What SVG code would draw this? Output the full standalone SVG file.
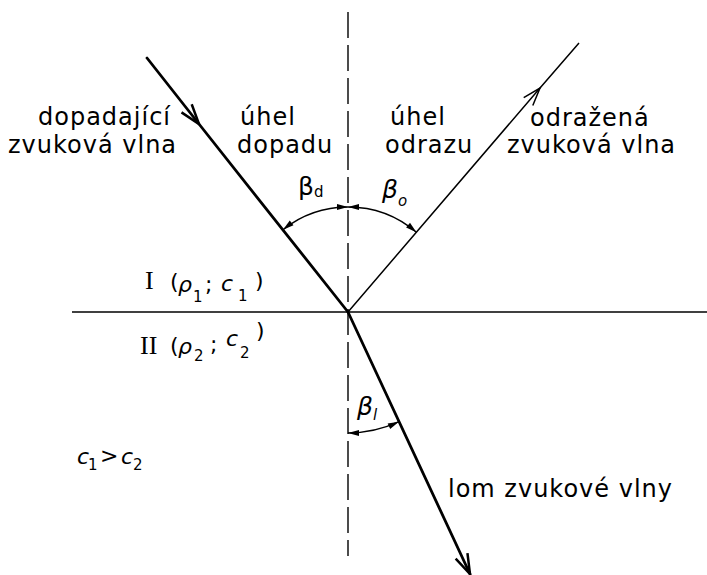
<svg xmlns="http://www.w3.org/2000/svg" width="707" height="575" viewBox="0 0 707 575">
<style>
  .t { font-family: "DejaVu Sans", "Liberation Sans", sans-serif; font-size: 24px; letter-spacing: 1px; fill: #000; }
  .m { font-family: "DejaVu Sans", "Liberation Sans", sans-serif; font-size: 22px; fill: #000; }
  .b { font-family: "DejaVu Sans", "Liberation Sans", sans-serif; font-size: 25px; fill: #000; }
  .s { font-family: "DejaVu Sans", "Liberation Sans", sans-serif; font-size: 15px; fill: #000; }
  .r { font-family: "Liberation Serif", "DejaVu Serif", serif; font-size: 26px; fill: #000; }
  .ray { fill: none; stroke: #000; stroke-width: 2.8; stroke-linecap: round; }
  .thin { fill: none; stroke: #000; stroke-width: 1.5; }
  .arc { fill: none; stroke: #000; stroke-width: 1.3; marker-start: url(#sm); marker-end: url(#sm); }
</style>
<defs>
  <marker id="open" markerUnits="userSpaceOnUse" markerWidth="30" markerHeight="30" refX="0" refY="0" viewBox="-25 -15 30 30" orient="auto" overflow="visible">
    <path d="M-20,-6.5 L0,0 L-20,6.5" fill="none" stroke="#000" stroke-width="2.5"/>
  </marker>
  <marker id="openThin" markerUnits="userSpaceOnUse" markerWidth="30" markerHeight="30" refX="0" refY="0" viewBox="-25 -15 30 30" orient="auto" overflow="visible">
    <path d="M-18,-6 L0,0 L-18,6" fill="none" stroke="#000" stroke-width="1.5"/>
  </marker>
  <marker id="sm" markerUnits="userSpaceOnUse" markerWidth="14" markerHeight="10" refX="0" refY="0" viewBox="-12 -5 14 10" orient="auto-start-reverse" overflow="visible">
    <path d="M0,0 L-11,-3 L-11,3 Z" fill="#000"/>
  </marker>
</defs>
<rect width="707" height="575" fill="#fff"/>

<g id="axes">
  <line x1="348" y1="12" x2="348" y2="556" stroke="#000" stroke-width="1.4" stroke-dasharray="26 7"/>
  <line x1="72" y1="312" x2="707" y2="312" stroke="#000" stroke-width="1.6"/>
</g>

<g id="connectors">
  <path id="incident" class="ray" d="M147,58 L199,124 L348,312" marker-mid="url(#open)"/>
  <path id="reflected" class="thin" d="M348,312 L540,88 L579,43" marker-mid="url(#openThin)"/>
  <path id="refracted" class="ray" d="M348,312 L470,574" marker-end="url(#open)"/>
  <path id="arc-d" class="arc" d="M283,229.7 A105,105 0 0,1 348,207"/>
  <path id="arc-o" class="arc" d="M348,207 A105,105 0 0,1 416.4,232.3"/>
  <path id="arc-l" class="arc" d="M348,433 A121,121 0 0,0 398.9,421.7"/>
</g>

<g id="incident-label">
  <text class="t" x="38" y="125">dopadající</text>
  <text class="t" x="8" y="153">zvuková vlna</text>
</g>
<g id="incidence-angle-label">
  <text class="t" x="240" y="125">úhel</text>
  <text class="t" x="237" y="153">dopadu</text>
</g>
<g id="reflection-angle-label">
  <text class="t" x="390" y="125">úhel</text>
  <text class="t" x="385" y="153">odrazu</text>
</g>
<g id="reflected-label">
  <text class="t" x="530" y="126">odražená</text>
  <text class="t" x="507" y="153">zvuková vlna</text>
</g>
<g id="beta-d">
  <text class="b" x="298" y="195">β<tspan class="s" dy="2">d</tspan></text>
</g>
<g id="beta-o">
  <text class="b" x="382" y="198" font-style="italic">β<tspan class="s" dy="8">o</tspan></text>
</g>
<g id="beta-l">
  <text class="b" x="357" y="415" font-style="italic">β<tspan class="s" dy="5">l</tspan></text>
</g>
<g id="medium-1">
  <text class="r" x="145" y="289">I</text>
  <text class="m" x="170" y="289">(</text>
  <text class="m" x="178" y="292" font-style="italic">ρ</text>
  <text class="s" x="193" y="302">1</text>
  <text class="m" x="205" y="292">;</text>
  <text class="m" x="221" y="291" font-style="italic">c</text>
  <text class="s" x="238" y="301">1</text>
  <text class="m" x="255" y="288">)</text>
</g>
<g id="medium-2">
  <text class="r" x="140" y="354">II</text>
  <text class="m" x="170" y="353">(</text>
  <text class="m" x="178" y="354" font-style="italic">ρ</text>
  <text class="s" x="194" y="361">2</text>
  <text class="m" x="210" y="352">;</text>
  <text class="m" x="226" y="346" font-style="italic">c</text>
  <text class="s" x="240" y="358">2</text>
  <text class="m" x="256" y="338">)</text>
</g>
<g id="condition">
  <text class="m" x="77" y="464" font-style="italic">c</text>
  <text class="s" x="88" y="470">1</text>
  <text class="m" x="100" y="463" font-size="17">&gt;</text>
  <text class="m" x="121" y="464" font-style="italic">c</text>
  <text class="s" x="133" y="470">2</text>
</g>
<g id="refracted-label">
  <text class="t" x="448" y="497">lom zvukové vlny</text>
</g>
</svg>
